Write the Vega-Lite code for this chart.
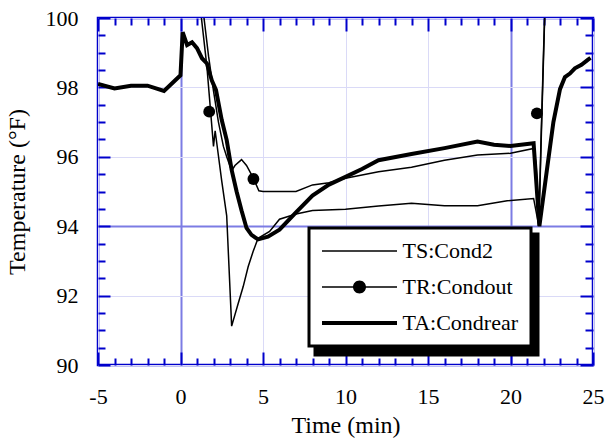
{
  "$schema": "https://vega.github.io/schema/vega-lite/v6.json",
  "width": 495,
  "height": 347,
  "autosize": "none",
  "padding": {"left": 98, "top": 18, "right": 15, "bottom": 79},
  "background": "white",
  "config": {
    "font": "Liberation Serif",
    "view": {"stroke": "#0000cc", "strokeWidth": 2.5},
    "legend": {"strokeWidth": 3, "labelFont": "Liberation Serif", "labelFontSize": 22},
    "axis": {
      "labelFont": "Liberation Serif",
      "titleFont": "Liberation Serif",
      "labelColor": "black",
      "titleColor": "black",
      "labelFontSize": 22,
      "titleFontSize": 24,
      "titleFontWeight": "normal",
      "domain": false,
      "tickColor": "#0000cc",
      "tickWidth": 2,
      "labelOverlap": false,
      "labelFlush": false,
      "labelBound": false
    }
  },
  "datasets": {
    "TS": [
      {"t": 1.15, "T": 100.5}, {"t": 1.6, "T": 98.6}, {"t": 2.0, "T": 96.3}, {"t": 2.1, "T": 96.75},
      {"t": 2.5, "T": 95.3}, {"t": 2.8, "T": 94.3}, {"t": 3.1, "T": 91.12}, {"t": 3.5, "T": 91.78},
      {"t": 3.8, "T": 92.26}, {"t": 4.1, "T": 92.83}, {"t": 4.4, "T": 93.27}, {"t": 4.7, "T": 93.65},
      {"t": 5.4, "T": 93.85}, {"t": 6.0, "T": 94.2}, {"t": 7.0, "T": 94.35}, {"t": 8.0, "T": 94.45},
      {"t": 10.0, "T": 94.49}, {"t": 12.0, "T": 94.58}, {"t": 14.0, "T": 94.66}, {"t": 16.0, "T": 94.59},
      {"t": 18.0, "T": 94.59}, {"t": 19.8, "T": 94.73}, {"t": 21.4, "T": 94.8}, {"t": 21.72, "T": 94.0},
      {"t": 21.85, "T": 96.3}, {"t": 22.1, "T": 100.5}
    ],
    "TR": [
      {"t": 1.35, "T": 100.3}, {"t": 1.7, "T": 98.9}, {"t": 2.0, "T": 97.9}, {"t": 2.3, "T": 97.0},
      {"t": 2.6, "T": 96.3}, {"t": 2.8, "T": 96.0}, {"t": 3.1, "T": 95.6}, {"t": 3.3, "T": 95.75},
      {"t": 3.7, "T": 95.92}, {"t": 4.0, "T": 95.75}, {"t": 4.4, "T": 95.4}, {"t": 4.75, "T": 95.02},
      {"t": 5.0, "T": 95.0}, {"t": 6.0, "T": 95.0}, {"t": 7.0, "T": 95.0}, {"t": 8.0, "T": 95.19},
      {"t": 9.0, "T": 95.25}, {"t": 10.0, "T": 95.38}, {"t": 12.0, "T": 95.57}, {"t": 14.0, "T": 95.7},
      {"t": 16.0, "T": 95.9}, {"t": 18.0, "T": 96.05}, {"t": 20.0, "T": 96.1}, {"t": 21.4, "T": 96.24},
      {"t": 21.55, "T": 95.8}, {"t": 21.72, "T": 94.1}, {"t": 21.85, "T": 96.5}, {"t": 22.0, "T": 99.0},
      {"t": 22.1, "T": 100.5}
    ],
    "TA": [
      {"t": -5.0, "T": 98.1}, {"t": -4.0, "T": 97.97}, {"t": -3.0, "T": 98.05}, {"t": -2.0, "T": 98.05},
      {"t": -1.0, "T": 97.9}, {"t": 0.0, "T": 98.35}, {"t": 0.13, "T": 99.59}, {"t": 0.4, "T": 99.22},
      {"t": 0.7, "T": 99.3}, {"t": 1.0, "T": 99.13}, {"t": 1.3, "T": 98.84}, {"t": 1.6, "T": 98.69},
      {"t": 1.9, "T": 98.2}, {"t": 2.15, "T": 97.93}, {"t": 2.5, "T": 97.06}, {"t": 2.8, "T": 96.48},
      {"t": 3.1, "T": 95.62}, {"t": 3.4, "T": 95.0}, {"t": 3.7, "T": 94.45}, {"t": 4.0, "T": 93.95},
      {"t": 4.3, "T": 93.75}, {"t": 4.7, "T": 93.62}, {"t": 5.3, "T": 93.7}, {"t": 6.0, "T": 93.9},
      {"t": 7.0, "T": 94.4}, {"t": 8.0, "T": 94.88}, {"t": 9.0, "T": 95.2}, {"t": 10.0, "T": 95.42},
      {"t": 11.0, "T": 95.65}, {"t": 12.0, "T": 95.9}, {"t": 14.0, "T": 96.08}, {"t": 16.0, "T": 96.25},
      {"t": 18.0, "T": 96.44}, {"t": 19.0, "T": 96.35}, {"t": 20.0, "T": 96.31}, {"t": 21.4, "T": 96.39},
      {"t": 21.75, "T": 94.0}, {"t": 22.2, "T": 95.6}, {"t": 22.6, "T": 97.0}, {"t": 23.0, "T": 97.95},
      {"t": 23.3, "T": 98.3}, {"t": 23.6, "T": 98.4}, {"t": 23.9, "T": 98.55}, {"t": 24.3, "T": 98.65},
      {"t": 24.7, "T": 98.8}, {"t": 24.85, "T": 98.85}
    ],
    "markers": [
      {"t": 1.74, "T": 97.3, "series": "TR:Condout"},
      {"t": 4.42, "T": 95.36, "series": "TR:Condout"},
      {"t": 21.6, "T": 97.25, "series": "TR:Condout"}
    ]
  },
  "resolve": {"axis": {"x": "independent", "y": "independent"}},
  "layer": [
    {
      "data": {"name": "TS"},
      "mark": {"type": "line", "color": "black", "strokeWidth": 1.5, "clip": true},
      "encoding": {
        "x": {
          "field": "t", "type": "quantitative",
          "scale": {"domain": [-5, 25], "nice": false, "zero": false},
          "axis": {
            "orient": "bottom",
            "values": [-5,-4,-3,-2,-1,0,1,2,3,4,5,6,7,8,9,10,11,12,13,14,15,16,17,18,19,20,21,22,23,24,25],
            "labelExpr": "datum.value % 5 === 0 ? '' + datum.value : ''",
            "tickSize": {"condition": {"test": "datum.value % 5 === 0", "value": -13}, "value": -7},
            "labelPadding": 34,
            "grid": true,
            "gridColor": {"condition": [{"test": "datum.value === 0 || datum.value === 20", "value": "#7c7ce4"}, {"test": "datum.value % 5 === 0", "value": "#dadaf7"}], "value": "transparent"},
            "gridWidth": {"condition": {"test": "datum.value === 0 || datum.value === 20", "value": 2}, "value": 1},
            "title": "Time (min)",
            "titlePadding": 0
          }
        },
        "y": {
          "field": "T", "type": "quantitative",
          "scale": {"domain": [90, 100], "nice": false, "zero": false},
          "axis": {
            "orient": "left",
            "values": [90,90.5,91,91.5,92,92.5,93,93.5,94,94.5,95,95.5,96,96.5,97,97.5,98,98.5,99,99.5,100],
            "labelExpr": "datum.value % 2 === 0 ? '' + datum.value : ''",
            "tickSize": {"condition": {"test": "datum.value % 2 === 0", "value": -12}, "value": -7},
            "labelPadding": 32,
            "grid": true,
            "gridColor": {"condition": [{"test": "datum.value === 94", "value": "#7c7ce4"}, {"test": "datum.value % 2 === 0", "value": "#dadaf7"}], "value": "transparent"},
            "gridWidth": {"condition": {"test": "datum.value === 94", "value": 2}, "value": 1},
            "title": "Temperature (°F)",
            "titlePadding": 16
          }
        }
      }
    },
    {
      "data": {"name": "TR"},
      "mark": {"type": "line", "color": "black", "strokeWidth": 1.5, "clip": true},
      "encoding": {
        "x": {
          "field": "t", "type": "quantitative",
          "scale": {"domain": [-5, 25], "nice": false, "zero": false},
          "axis": {
            "orient": "top",
            "values": [-5,-4,-3,-2,-1,0,1,2,3,4,5,6,7,8,9,10,11,12,13,14,15,16,17,18,19,20,21,22,23,24,25],
            "labels": false,
            "tickSize": {"condition": {"test": "datum.value % 5 === 0", "value": -13}, "value": -7},
            "grid": false,
            "title": null
          }
        },
        "y": {
          "field": "T", "type": "quantitative",
          "scale": {"domain": [90, 100], "nice": false, "zero": false},
          "axis": {
            "orient": "right",
            "values": [90,90.5,91,91.5,92,92.5,93,93.5,94,94.5,95,95.5,96,96.5,97,97.5,98,98.5,99,99.5,100],
            "labels": false,
            "tickSize": {"condition": {"test": "datum.value % 2 === 0", "value": -13}, "value": -8},
            "grid": false,
            "title": null
          }
        }
      }
    },
    {
      "data": {"name": "TA"},
      "mark": {"type": "line", "color": "black", "strokeWidth": 4, "clip": true},
      "encoding": {
        "x": {"field": "t", "type": "quantitative", "scale": {"domain": [-5, 25], "nice": false, "zero": false}, "axis": null},
        "y": {"field": "T", "type": "quantitative", "scale": {"domain": [90, 100], "nice": false, "zero": false}, "axis": null}
      }
    },
    {
      "data": {"name": "markers"},
      "mark": {"type": "point", "shape": "circle", "filled": true, "color": "black", "size": 140, "opacity": 1},
      "encoding": {
        "x": {"field": "t", "type": "quantitative", "scale": {"domain": [-5, 25], "nice": false, "zero": false}, "axis": null},
        "y": {"field": "T", "type": "quantitative", "scale": {"domain": [90, 100], "nice": false, "zero": false}, "axis": null}
      }
    },
    {
      "data": {"name": "markers"},
      "mark": {"type": "point", "filled": true, "opacity": 0},
      "encoding": {
        "x": {"field": "t", "type": "quantitative", "scale": {"domain": [-5, 25], "nice": false, "zero": false}, "axis": null},
        "y": {"field": "T", "type": "quantitative", "scale": {"domain": [90, 100], "nice": false, "zero": false}, "axis": null},
        "color": {
          "field": "series", "type": "nominal",
          "scale": {"domain": ["TR:Condout"], "range": ["black"]},
          "legend": {
            "orient": "none", "legendX": 217, "legendY": 216, "title": null,
            "padding": 0, "fillColor": "black", "strokeColor": "black",
            "symbolType": "M-1,-1H21.2V11.0H-1Z", "symbolSize": 400, "symbolStrokeWidth": 0,
            "symbolOffset": 0, "labelOffset": 0, "labelExpr": "''", "symbolOpacity": 1, "symbolFillColor": "black"
          }
        }
      }
    },
    {
      "data": {"name": "markers"},
      "mark": {"type": "point", "filled": true, "opacity": 0, "color": "black"},
      "encoding": {
        "x": {"field": "t", "type": "quantitative", "scale": {"domain": [-5, 25], "nice": false, "zero": false}, "axis": null},
        "y": {"field": "T", "type": "quantitative", "scale": {"domain": [90, 100], "nice": false, "zero": false}, "axis": null},
        "shape": {
          "field": "series", "type": "nominal",
          "scale": {
            "domain": ["TS:Cond2", "TR:Condout", "TA:Condrear"],
            "range": [
              "M-3.75,-0.08H3.75V0.08H-3.75Z",
              "M-3.75,-0.08H3.75V0.08H-3.75Z M0.65,0A0.65,0.65 0 1,1 -0.65,0A0.65,0.65 0 1,1 0.65,0Z",
              "M-3.75,-0.2H3.75V0.2H-3.75Z"
            ]
          },
          "legend": {
            "orient": "none", "legendX": 211, "legendY": 210, "title": null,
            "padding": 12, "fillColor": "white", "strokeColor": "black",
            "symbolSize": 400, "symbolStrokeWidth": 0, "symbolFillColor": "black", "symbolStrokeColor": "black",
            "symbolOffset": 27.5, "labelOffset": 32, "symbolOpacity": 1,
            "labelFont": "Liberation Serif", "labelFontSize": 22, "labelColor": "black", "rowPadding": 14
          }
        }
      }
    }
  ]
}
